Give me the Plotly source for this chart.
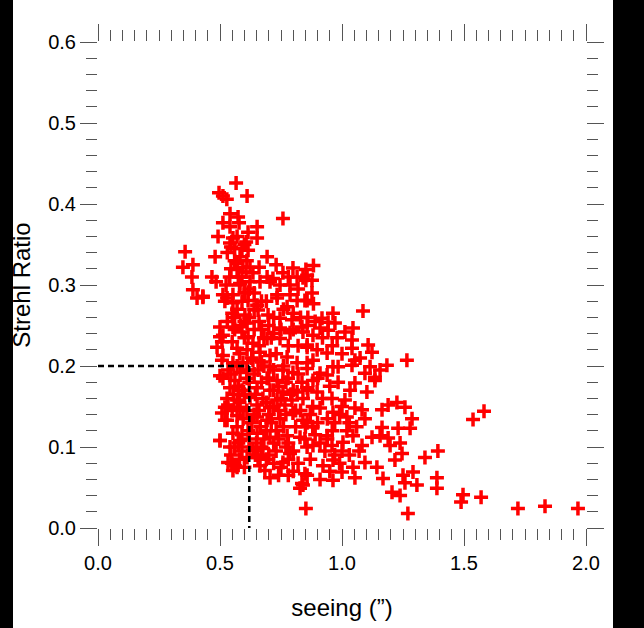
import plotly.graph_objects as go

# ---- data ----
seeing = [
    # upper cloud
    0.566, 0.496, 0.512, 0.528, 0.611, 0.758, 0.541, 0.574, 0.512, 0.578,
    0.541, 0.652, 0.615, 0.492, 0.553, 0.652, 0.541, 0.607, 0.615, 0.357,
    0.480, 0.545, 0.693, 0.582, 0.348, 0.389, 0.385, 0.570, 0.594, 0.623,
    0.660, 0.730, 0.570, 0.607, 0.799, 0.852, 0.693, 0.717, 0.758, 0.590,
    0.467, 0.816, 0.484, 0.525, 0.582, 0.623, 0.664, 0.705, 0.746, 0.787,
    0.852, 0.389, 0.430, 0.512, 0.553, 0.615, 0.734, 0.787,
    # middle band
    0.406, 0.430, 0.529, 0.553, 0.615, 0.652, 0.656, 0.734, 0.775, 0.816,
    0.857, 0.697, 0.746, 0.795, 0.836, 0.602, 0.611, 0.553, 0.500, 0.512,
    0.508, 0.590, 0.615, 0.635, 0.693, 0.746, 0.746, 0.787, 0.840, 0.857,
    0.570, 0.611, 0.512, 0.664, 0.705, 0.775, 0.816, 0.857, 0.553, 0.594,
    0.635, 0.533, 0.582, 0.656, 0.705, 0.758, 0.799, 0.512, 0.561, 0.611,
    0.693, 0.734, 0.779, 0.836, 0.541, 0.590, 0.652, 0.705, 0.758, 0.816,
    0.529, 0.570, 0.623, 0.676, 0.734, 0.795,
    # lower-left
    0.533, 0.582, 0.652, 0.705, 0.766, 0.520, 0.570, 0.652, 0.693, 0.746,
    0.799, 0.840, 0.500, 0.553, 0.582, 0.652, 0.705, 0.775, 0.828, 0.857,
    0.541, 0.635, 0.676, 0.787, 0.611, 0.656, 0.533, 0.561, 0.553, 0.664,
    0.684, 0.705, 0.758, 0.848, 0.836, 0.828, 0.852,
    # right of core, upper
    0.883, 0.857, 0.877, 0.840, 0.877, 0.848, 0.883, 1.086, 0.963, 0.918,
    0.943, 0.971, 0.910, 0.943, 0.857, 0.881, 1.012, 1.045, 1.041, 1.041,
    1.107, 1.123, 1.266, 0.857, 0.898, 0.939, 0.881, 1.053, 1.074, 1.041,
    0.963, 0.984, 0.857, 0.910, 0.939, 1.115, 1.156, 1.184, 1.094, 1.135,
    # right of core, lower, and outliers
    0.984, 1.033, 1.053, 1.102, 1.135, 0.881, 0.857, 0.898, 0.959, 1.012,
    0.910, 0.963, 1.020, 1.053, 1.082, 1.094, 1.164, 1.189, 1.225, 1.258,
    1.287, 1.279, 1.230, 1.164, 0.857, 0.848, 0.881, 0.939, 0.959, 1.004,
    1.045, 1.082, 1.123, 1.156, 1.189, 1.197, 1.238, 1.246, 1.217, 1.340,
    1.393, 0.922, 0.963, 1.000, 1.045, 1.094, 1.143, 1.053, 0.963, 1.168,
    1.250, 1.291, 1.258, 1.307, 1.205, 1.238, 1.389, 1.389, 0.857, 0.840,
    1.270, 1.537, 1.582, 1.496, 1.488, 1.570, 1.721, 1.832, 1.967,
    # left edge of the core
    0.500, 0.508, 0.500, 0.520, 0.529, 0.500, 0.549, 0.570, 0.488, 0.508,
    # dense core
    0.55, 0.58, 0.60, 0.63, 0.66, 0.68, 0.545, 0.575, 0.60, 0.62,
    0.645, 0.67, 0.69, 0.72, 0.74, 0.55, 0.57, 0.595, 0.615, 0.64,
    0.665, 0.68, 0.71, 0.73, 0.76, 0.78, 0.81, 0.83, 0.80, 0.82,
    0.76, 0.73, 0.71, 0.75, 0.78, 0.80, 0.82, 0.86, 0.88, 0.90,
    0.92, 0.94, 0.96, 0.90, 0.95, 0.99, 1.02, 1.00, 0.97, 0.93,
    0.89, 0.87, 0.91, 0.59, 0.62, 0.575, 0.65, 0.70, 0.73, 0.75,
    0.78, 0.56, 0.59, 0.62, 0.58, 0.64, 0.60, 0.67, 0.69, 0.72,
    0.54, 0.56, 0.59, 0.57,
    # more of the upper column
    0.53, 0.56, 0.60, 0.545, 0.575, 0.61, 0.635, 0.52, 0.57, 0.60,
    0.64, 0.67, 0.55, 0.585, 0.62, 0.66, 0.70, 0.53, 0.56, 0.64,
    0.68, 0.72, 0.76, 0.80, 0.83, 0.78, 0.82, 0.86, 0.89, 0.92,
    0.96, 1.00, 0.98,
    # more of the core
    0.57, 0.61, 0.64, 0.67, 0.70, 0.72, 0.74, 0.77,
    0.79, 0.81, 0.84, 0.87, 0.85, 0.88, 0.91, 0.94, 0.97, 1.00,
    1.03, 1.06, 1.07, 1.03, 0.99, 0.95, 0.555, 0.58, 0.61,
    0.63, 0.66, 0.70, 0.72, 0.75, 0.77, 0.56, 0.59, 0.62,
    0.645, 0.67, 0.69, 0.72, 0.74, 0.77, 0.80, 0.82, 0.80, 0.78,
    0.74, 0.72, 0.69, 0.60, 0.58, 0.545,
]
strehl = [
    # upper cloud
    0.426, 0.414, 0.410, 0.406, 0.410, 0.382, 0.388, 0.384, 0.377, 0.377,
    0.372, 0.372, 0.365, 0.360, 0.358, 0.358, 0.352, 0.353, 0.343, 0.341,
    0.335, 0.347, 0.335, 0.335, 0.322, 0.325, 0.310, 0.327, 0.322, 0.322,
    0.322, 0.325, 0.319, 0.316, 0.321, 0.319, 0.310, 0.308, 0.315, 0.310,
    0.310, 0.310, 0.304, 0.300, 0.302, 0.304, 0.304, 0.304, 0.300, 0.300,
    0.306, 0.294, 0.286, 0.288, 0.288, 0.291, 0.288, 0.288,
    # middle band
    0.284, 0.285, 0.284, 0.278, 0.281, 0.275, 0.269, 0.284, 0.273, 0.281,
    0.281, 0.263, 0.259, 0.257, 0.248, 0.263, 0.253, 0.248, 0.248, 0.238,
    0.230, 0.242, 0.236, 0.228, 0.234, 0.234, 0.247, 0.241, 0.242, 0.226,
    0.222, 0.220, 0.213, 0.217, 0.213, 0.211, 0.204, 0.204, 0.204, 0.204,
    0.207, 0.195, 0.192, 0.195, 0.199, 0.195, 0.192, 0.185, 0.182, 0.185,
    0.185, 0.182, 0.185, 0.180, 0.173, 0.170, 0.173, 0.170, 0.168, 0.168,
    0.160, 0.158, 0.161, 0.160, 0.158, 0.158,
    # lower-left
    0.152, 0.149, 0.152, 0.149, 0.152, 0.133, 0.139, 0.137, 0.133, 0.135,
    0.142, 0.133, 0.108, 0.117, 0.108, 0.117, 0.112, 0.114, 0.112, 0.100,
    0.100, 0.096, 0.098, 0.092, 0.087, 0.087, 0.081, 0.077, 0.071, 0.077,
    0.071, 0.062, 0.081, 0.067, 0.055, 0.049, 0.024,
    # right of core, upper
    0.324, 0.312, 0.306, 0.309, 0.290, 0.281, 0.277, 0.268, 0.265, 0.259,
    0.254, 0.253, 0.247, 0.244, 0.250, 0.238, 0.242, 0.247, 0.232, 0.222,
    0.226, 0.217, 0.207, 0.223, 0.220, 0.216, 0.207, 0.207, 0.210, 0.201,
    0.199, 0.199, 0.197, 0.191, 0.189, 0.199, 0.195, 0.201, 0.191, 0.186,
    # right of core, lower, and outliers
    0.180, 0.170, 0.179, 0.168, 0.182, 0.182, 0.173, 0.168, 0.160, 0.158,
    0.148, 0.143, 0.137, 0.148, 0.146, 0.135, 0.146, 0.152, 0.155, 0.149,
    0.135, 0.123, 0.123, 0.124, 0.130, 0.110, 0.102, 0.114, 0.102, 0.106,
    0.114, 0.102, 0.112, 0.114, 0.111, 0.102, 0.105, 0.092, 0.084, 0.087,
    0.095, 0.077, 0.084, 0.069, 0.075, 0.081, 0.075, 0.062, 0.059, 0.061,
    0.065, 0.069, 0.056, 0.053, 0.044, 0.040, 0.062, 0.049, 0.065, 0.053,
    0.018, 0.134, 0.144, 0.041, 0.032, 0.038, 0.024, 0.027, 0.024,
    # left edge of the core
    0.236, 0.207, 0.188, 0.149, 0.133, 0.108, 0.080, 0.075, 0.223, 0.142,
    # dense core
    0.230, 0.215, 0.235, 0.210, 0.225, 0.200, 0.190, 0.175, 0.165, 0.180,
    0.165, 0.180, 0.155, 0.170, 0.145, 0.145, 0.125, 0.135, 0.120, 0.140,
    0.125, 0.110, 0.130, 0.120, 0.125, 0.105, 0.125, 0.145, 0.170, 0.190,
    0.200, 0.215, 0.235, 0.245, 0.225, 0.245, 0.225, 0.170, 0.150, 0.130,
    0.160, 0.135, 0.120, 0.185, 0.175, 0.140, 0.120, 0.095, 0.090, 0.095,
    0.115, 0.085, 0.060, 0.095, 0.100, 0.105, 0.105, 0.090, 0.095, 0.075,
    0.085, 0.260, 0.280, 0.295, 0.300, 0.270, 0.255, 0.245, 0.280, 0.260,
    0.310, 0.330, 0.345, 0.360,
    # more of the upper column
    0.340, 0.345, 0.350, 0.320, 0.310, 0.330, 0.315, 0.280, 0.270, 0.290,
    0.290, 0.280, 0.265, 0.250, 0.260, 0.255, 0.250, 0.255, 0.245, 0.245,
    0.235, 0.240, 0.270, 0.265, 0.260, 0.310, 0.295, 0.260, 0.255, 0.235,
    0.225, 0.215, 0.235,
    # more of the core
    0.200, 0.195, 0.190, 0.205, 0.185, 0.195, 0.175, 0.180,
    0.165, 0.145, 0.160, 0.140, 0.125, 0.125, 0.105, 0.110, 0.130, 0.150,
    0.130, 0.125, 0.095, 0.090, 0.080, 0.070, 0.165, 0.155, 0.145,
    0.130, 0.145, 0.140, 0.150, 0.160, 0.140, 0.100, 0.115, 0.110,
    0.090, 0.100, 0.120, 0.105, 0.110, 0.100, 0.095, 0.080, 0.070, 0.065,
    0.065, 0.080, 0.085, 0.075, 0.085, 0.090,
]

# reference guide (dashed lines)
seeing_ref = 0.62
strehl_ref = 0.20

x_tickvals = [0.0, 0.5, 1.0, 1.5, 2.0]
x_ticktext = ["0.0", "0.5", "1.0", "1.5", "2.0"]
y_tickvals = [0.0, 0.1, 0.2, 0.3, 0.4, 0.5, 0.6]
y_ticktext = ["0.0", "0.1", "0.2", "0.3", "0.4", "0.5", "0.6"]

FONT = "Liberation Sans, Arial, Helvetica, sans-serif"
TICKCOL = "#555555"

fig = go.Figure()

fig.add_trace(go.Scatter(
    x=seeing, y=strehl, mode="markers",
    marker=dict(symbol="cross-thin", size=10,
                line=dict(color="#ff0000", width=3.5), color="#ff0000"),
    showlegend=False, cliponaxis=False))

# dashed guide lines, drawn over the markers
fig.add_trace(go.Scatter(
    x=[0.0, seeing_ref], y=[strehl_ref, strehl_ref], mode="lines",
    line=dict(color="black", width=2.5, dash="6px,4px"), hoverinfo="skip",
    showlegend=False))
fig.add_trace(go.Scatter(
    x=[seeing_ref, seeing_ref], y=[strehl_ref, 0.0], mode="lines",
    line=dict(color="black", width=2.5, dash="6px,4px"), hoverinfo="skip",
    showlegend=False))

fig.update_layout(
    width=644, height=628,
    margin=dict(l=98, r=58, t=42, b=100),
    paper_bgcolor="black",
    plot_bgcolor="white",
    font=dict(family=FONT, color="black", size=20),
    shapes=[dict(type="rect", xref="paper", yref="paper",
                 x0=(13 - 98) / 488, x1=(613 - 98) / 488, y0=-0.3, y1=1.2,
                 fillcolor="white", line=dict(width=0), layer="below")],
)

fig.update_xaxes(
    range=[0, 2], tickvals=x_tickvals, ticktext=x_ticktext,
    showgrid=False, zeroline=False, showline=False,
    ticks="outside", ticklen=17, tickwidth=1, tickcolor=TICKCOL,
    mirror="ticks",
    minor=dict(tick0=0, dtick=0.05, ticks="outside", ticklen=11,
               tickwidth=1, tickcolor=TICKCOL, showgrid=False),
    tickfont=dict(size=20),
    title=dict(text="seeing (\u201d)", font=dict(size=24), standoff=26),
)
fig.update_yaxes(
    range=[0, 0.6], tickvals=y_tickvals, ticktext=y_ticktext,
    showgrid=False, zeroline=False, showline=False,
    ticks="outside", ticklen=17, tickwidth=1, tickcolor=TICKCOL,
    mirror="ticks",
    minor=dict(tick0=0, dtick=0.02, ticks="outside", ticklen=11,
               tickwidth=1, tickcolor=TICKCOL, showgrid=False),
    tickfont=dict(size=20),
    title=dict(text="Strehl Ratio", font=dict(size=24), standoff=10),
)

fig.write_html(
    "out.html",
    config={"displayModeBar": False},
    post_script="document.body.style.margin='0';document.body.style.background='black';",
)
